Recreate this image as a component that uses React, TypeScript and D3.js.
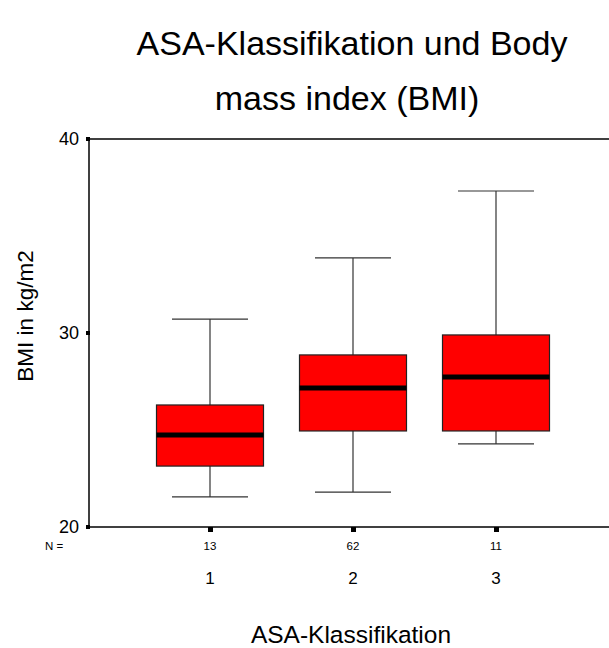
import React from "react";
import * as d3 from "d3";

const categories = ["1", "2", "3"];
const counts = [13, 62, 11];
const whiskerLow = [21.55, 21.8, 24.28];
const q1 = [23.14, 24.95, 24.95];
const median = [24.74, 27.16, 27.73];
const q3 = [26.29, 28.87, 29.9];
const whiskerHigh = [30.72, 33.87, 37.32];
const yTicks = [20, 30, 40];

const W = 609;
const H = 648;
const left = 89;
const top = 139;
const bottom = 527;
const right = 609;

export default function App() {
  const y = d3.scaleLinear().domain([20, 40]).range([bottom, top]);
  const x = d3.scalePoint<string>().domain(categories).range([210, 496]);
  const boxW = 107;
  const capW = 76;
  const font = "'Liberation Sans', Arial, sans-serif";
  return (
    <svg width={W} height={H} style={{ position: "absolute", left: 0, top: 0 }} fontFamily={font}>
      <rect width={W} height={H} fill="#fff" />
      <text x={352} y={55} textAnchor="middle" fontSize={34}>ASA-Klassifikation und Body</text>
      <text x={347} y={110} textAnchor="middle" fontSize={34}>mass index (BMI)</text>
      <line x1={left} x2={right} y1={top} y2={top} stroke="#000" strokeWidth={1.5} />
      <line x1={left} x2={right} y1={bottom} y2={bottom} stroke="#000" strokeWidth={1.5} />
      <line x1={left} x2={left} y1={top} y2={bottom} stroke="#000" strokeWidth={1.5} />
      {yTicks.map((t) => (
        <g key={t}>
          <rect x={left - 3} y={y(t) - 2} width={4} height={4} fill="#000" />
          <text x={left - 10} y={y(t) + 6} textAnchor="end" fontSize={18}>{t}</text>
        </g>
      ))}
      {categories.map((c, i) => {
        const cx = x(c)!;
        return (
          <g key={c}>
            <line x1={cx} x2={cx} y1={y(whiskerHigh[i])} y2={y(q3[i])} stroke="#333" strokeWidth={1.2} />
            <line x1={cx} x2={cx} y1={y(q1[i])} y2={y(whiskerLow[i])} stroke="#333" strokeWidth={1.2} />
            <line x1={cx - capW / 2} x2={cx + capW / 2} y1={y(whiskerHigh[i])} y2={y(whiskerHigh[i])} stroke="#333" strokeWidth={1.2} />
            <line x1={cx - capW / 2} x2={cx + capW / 2} y1={y(whiskerLow[i])} y2={y(whiskerLow[i])} stroke="#333" strokeWidth={1.2} />
            <rect x={cx - boxW / 2} y={y(q3[i])} width={boxW} height={y(q1[i]) - y(q3[i])} fill="#ff0000" stroke="#222" strokeWidth={1.2} />
            <line x1={cx - boxW / 2} x2={cx + boxW / 2} y1={y(median[i])} y2={y(median[i])} stroke="#000" strokeWidth={5} />
            <rect x={cx - 2} y={bottom} width={5} height={5} fill="#000" />
            <text x={cx} y={550} textAnchor="middle" fontSize={11.5}>{counts[i]}</text>
            <text x={cx} y={584} textAnchor="middle" fontSize={17}>{c}</text>
          </g>
        );
      })}
      <text x={54} y={550} textAnchor="middle" fontSize={11.5}>N =</text>
      <text x={351} y={643} textAnchor="middle" fontSize={24.5}>ASA-Klassifikation</text>
      <text transform={`translate(33,${316}) rotate(-90)`} textAnchor="middle" fontSize={22.5}>BMI in kg/m2</text>
    </svg>
  );
}
